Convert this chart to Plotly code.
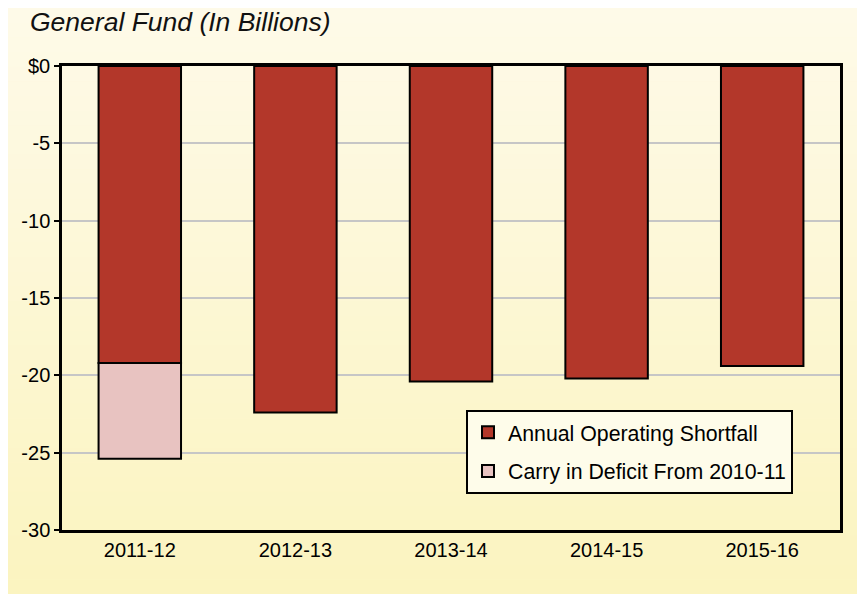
import plotly.graph_objects as go

# Data (billions of dollars)
years = ['2011-12', '2012-13', '2013-14', '2014-15', '2015-16']
annual_shortfall = [-19.2, -22.4, -20.4, -20.2, -19.4]
carry_in = [-6.2, None, None, None, None]
tick_vals = [0, -5, -10, -15, -20, -25, -30]
tick_text = ['$0', '-5', '-10', '-15', '-20', '-25', '-30']

# page has an 8px body margin, so the figure is a bit smaller than the window
W, H = 857, 586
ml, mr, mt, mb = 54, 25, 58, 64
pw, ph = W - ml - mr, H - mt - mb

fig = go.Figure()
fig.add_trace(go.Bar(
    x=years, y=annual_shortfall, name='Annual Operating Shortfall',
    legendgroup='a',
    marker=dict(color='#B3372A', line=dict(color='black', width=2)),
))
fig.add_trace(go.Bar(
    x=years, y=carry_in, name='Carry in Deficit From 2010-11',
    legendgroup='b',
    marker=dict(color='#E8C3C1', line=dict(color='black', width=2)),
))

# cream-to-yellow gradient panel behind everything
def px_x(p):
    return (p - ml) / pw

def px_y(p):
    return (H - mb - p) / ph

top_c = (254, 250, 232)
bot_c = (251, 244, 192)
n = 40
shapes = []
for i in range(n):
    t = i / (n - 1)
    c = tuple(int(round(top_c[k] + (bot_c[k] - top_c[k]) * t)) for k in range(3))
    a = H * i / n
    b = H * (i + 1) / n + 0.5
    shapes.append(dict(
        type='rect', xref='paper', yref='paper', layer='below',
        x0=px_x(0), x1=px_x(W), y0=px_y(a), y1=px_y(b),
        fillcolor='rgb(%d,%d,%d)' % c, line=dict(width=0),
    ))

fig.update_layout(
    width=W, height=H,
    margin=dict(l=ml, r=mr, t=mt, b=mb),
    barmode='relative',
    bargap=0.47,
    paper_bgcolor='rgb(253,247,212)',
    plot_bgcolor='rgba(0,0,0,0)',
    shapes=shapes,
    font=dict(family='Liberation Sans, Arial, sans-serif', color='black', size=20),
    title=dict(
        text='General Fund (In Billions)',
        font=dict(size=26.5, style='italic', color='#111111'),
        x=22 / W, xanchor='left', y=1 - 14 / H, yanchor='middle',
    ),
    xaxis=dict(
        type='category',
        showline=True, linecolor='black', linewidth=2.5, mirror=True,
        ticks='', tickfont=dict(size=20), showgrid=False,
    ),
    yaxis=dict(
        range=[-30, 0], tickvals=tick_vals, ticktext=tick_text,
        showline=True, linecolor='black', linewidth=2.5, mirror=True,
        ticks='outside', ticklen=5, tickwidth=2, tickcolor='black',
        showgrid=True, gridcolor='#C6C6C6', gridwidth=2,
        zeroline=False, tickfont=dict(size=20),
    ),
    legend=dict(
        x=px_x(458), y=px_y(402), xanchor='left', yanchor='top',
        bgcolor='#FEFCEA', bordercolor='black', borderwidth=2,
        traceorder='grouped', tracegroupgap=8, font=dict(size=21.3),
    ),
    showlegend=True,
)

fig.write_html('out.html')
